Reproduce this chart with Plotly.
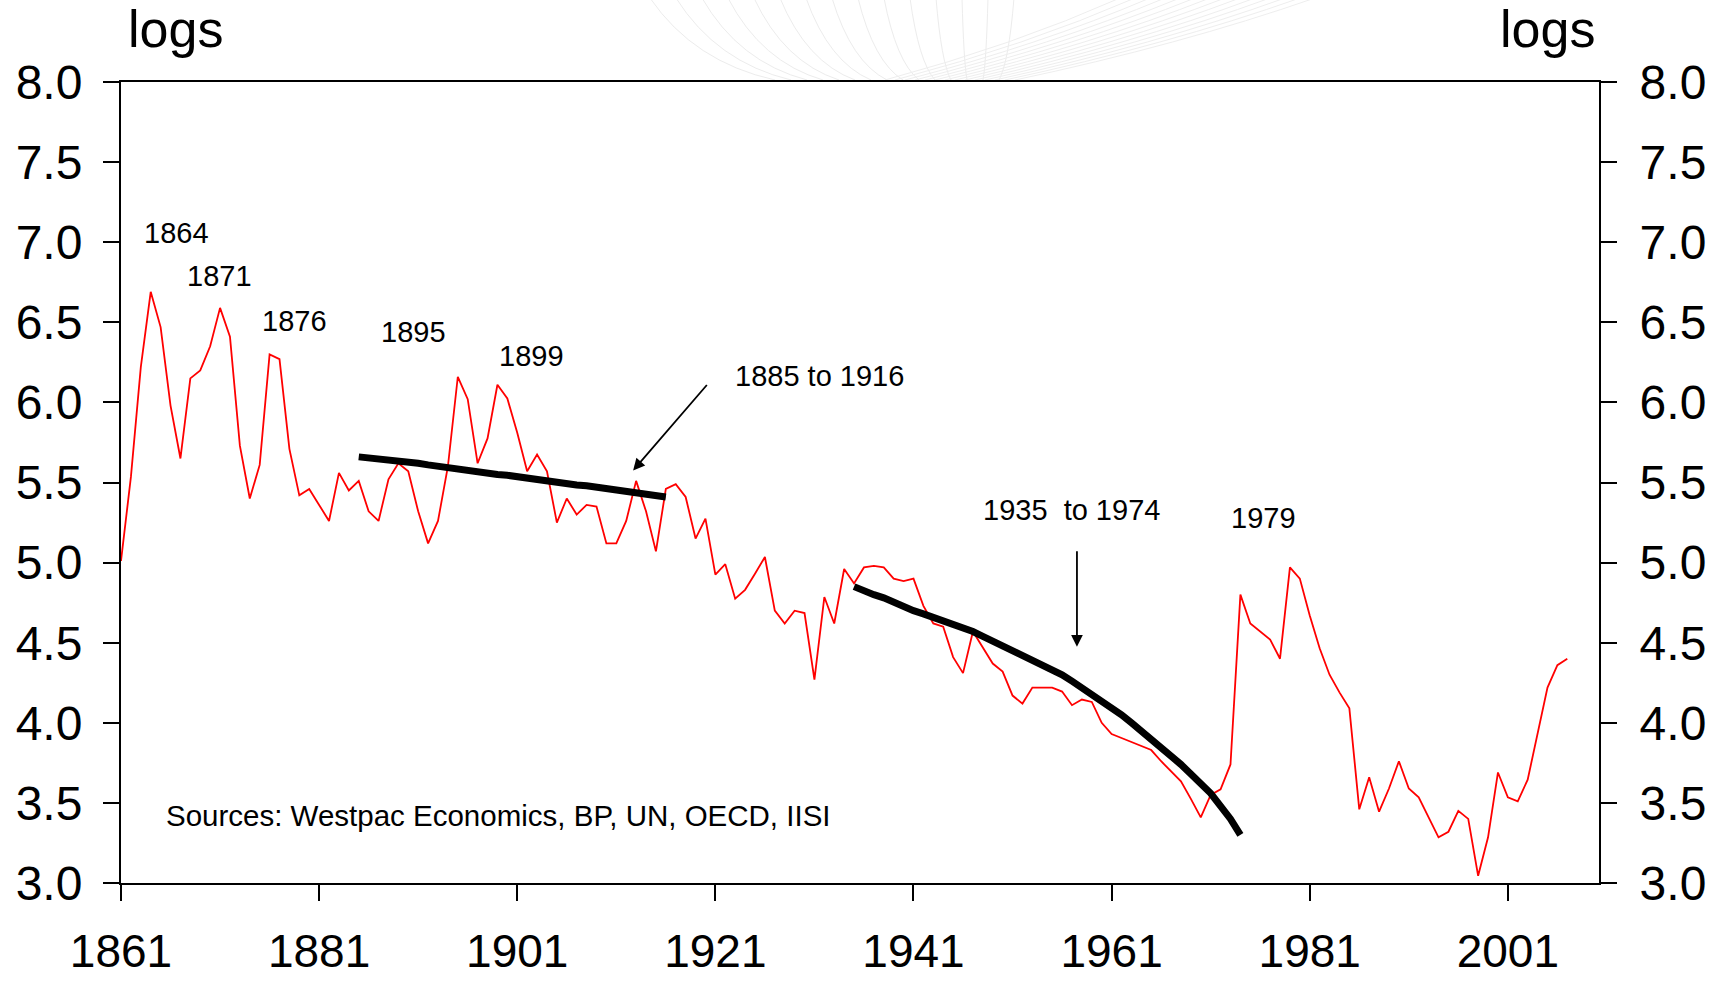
import plotly.graph_objects as go

# ---------------- data ----------------
years = list(range(1861, 2008))
log_intensity = [
    # 1861-1870
    5.01, 5.535, 6.22, 6.69, 6.47, 5.98, 5.65, 6.15, 6.20, 6.35,
    # 1871-1880
    6.59, 6.41, 5.73, 5.40, 5.61, 6.30, 6.27, 5.71, 5.42, 5.46,
    # 1881-1890
    5.36, 5.26, 5.56, 5.45, 5.51, 5.32, 5.26, 5.52, 5.62, 5.57,
    # 1891-1900
    5.32, 5.12, 5.26, 5.60, 6.16, 6.02, 5.62, 5.775, 6.11, 6.025,
    # 1901-1910
    5.81, 5.57, 5.675, 5.57, 5.25, 5.40, 5.30, 5.36, 5.35, 5.12,
    # 1911-1920
    5.12, 5.26, 5.51, 5.32, 5.07, 5.46, 5.49, 5.41, 5.15, 5.275,
    # 1921-1930
    4.925, 4.99, 4.775, 4.83, 4.93, 5.035, 4.70, 4.62, 4.70, 4.685,
    # 1931-1940
    4.27, 4.785, 4.62, 4.96, 4.87, 4.97, 4.98, 4.97, 4.90, 4.885,
    # 1941-1950
    4.90, 4.73, 4.62, 4.60, 4.41, 4.31, 4.57, 4.47, 4.37, 4.32,
    # 1951-1960
    4.17, 4.12, 4.22, 4.22, 4.22, 4.195, 4.11, 4.145, 4.13, 4.00,
    # 1961-1970
    3.93, 3.905, 3.88, 3.855, 3.83, 3.76, 3.70, 3.635, 3.525, 3.41,
    # 1971-1980
    3.55, 3.585, 3.74, 4.80, 4.62, 4.57, 4.52, 4.40, 4.97, 4.90,
    # 1981-1990
    4.67, 4.465, 4.30, 4.19, 4.09, 3.46, 3.66, 3.445, 3.59, 3.76,
    # 1991-2000
    3.59, 3.535, 3.41, 3.285, 3.32, 3.45, 3.40, 3.045, 3.285, 3.69,
    # 2001-2007
    3.535, 3.51, 3.645, 3.93, 4.22, 4.36, 4.40,
]
assert len(years) == len(log_intensity)

trend1_years = list(range(1885, 1917))
trend1_values = [
    5.66, 5.655, 5.65, 5.64, 5.635, 5.625, 5.62, 5.61, 5.60, 5.59,
    5.58, 5.575, 5.565, 5.56, 5.55, 5.545, 5.535, 5.53, 5.52, 5.51,
    5.50, 5.495, 5.485, 5.48, 5.47, 5.46, 5.45, 5.44, 5.435, 5.425,
    5.415, 5.41,
]
trend2_years = list(range(1935, 1975))
trend2_values = [
    4.85, 4.82, 4.80, 4.78, 4.75, 4.72, 4.70, 4.68, 4.66, 4.63,
    4.61, 4.59, 4.57, 4.54, 4.51, 4.49, 4.46, 4.43, 4.40, 4.36,
    4.33, 4.30, 4.26, 4.22, 4.18, 4.14, 4.10, 4.05, 4.00, 3.95,
    3.90, 3.85, 3.80, 3.74, 3.68, 3.62, 3.56, 3.48, 3.40, 3.30,
]
assert len(trend1_years) == len(trend1_values)
assert len(trend2_years) == len(trend2_values)

x_ticks = [1861, 1881, 1901, 1921, 1941, 1961, 1981, 2001]
y_ticks = [3.0, 3.5, 4.0, 4.5, 5.0, 5.5, 6.0, 6.5, 7.0, 7.5, 8.0]
y_tick_text = [f"{v:.1f}" for v in y_ticks]

peak_labels = ["1864", "1871", "1876", "1895", "1899", "1979"]
peak_label_x = [1866.6, 1870.9, 1878.5, 1890.5, 1902.4, 1976.3]
peak_label_y = [7.06, 6.79, 6.51, 6.44, 6.29, 5.28]

# ---------------- figure ----------------
FONT = "Arial, Liberation Sans, sans-serif"
W, H = 1726, 981
ML, MR, MT, MB = 121, 127, 82, 98
PW, PH = W - ML - MR, H - MT - MB


def px(x):
    return (x - ML) / PW


def py(y):
    return (H - MB - y) / PH


fig = go.Figure()
fig.add_trace(go.Scatter(x=years, y=log_intensity, mode="lines",
                         line=dict(color="#ff0000", width=1.8),
                         showlegend=False, hoverinfo="x+y"))
fig.add_trace(go.Scatter(x=trend1_years, y=trend1_values, mode="lines",
                         line=dict(color="#000000", width=7),
                         showlegend=False))
fig.add_trace(go.Scatter(x=trend2_years, y=trend2_values, mode="lines",
                         line=dict(color="#000000", width=7),
                         showlegend=False))
# invisible trace to carry the right-hand axis
fig.add_trace(go.Scatter(x=years, y=log_intensity, yaxis="y2", mode="lines",
                         line=dict(width=0), opacity=0, showlegend=False,
                         hoverinfo="skip"))

# decorative faint wave pattern in the top margin
shapes = []
for i in range(15):
    x0, x1 = 650 + 26 * i, 775 + 16 * i
    cx = x0 + (x1 - x0) * 0.35
    path = (f"M {px(x0)},{py(-2)} Q {px(cx)},{py(62)} {px(x1)},{py(80)}")
    shapes.append(dict(type="path", xref="paper", yref="paper", path=path,
                       line=dict(color="#ececec", width=1), layer="below"))
for j in range(14):
    x0, x1 = 885 + 10 * j, 1120 + 15 * j
    cx = x0 + (x1 - x0) * 0.55
    path = (f"M {px(x0)},{py(80)} Q {px(cx)},{py(45)} {px(x1)},{py(-2)}")
    shapes.append(dict(type="path", xref="paper", yref="paper", path=path,
                       line=dict(color="#eeeeee", width=1), layer="below"))

LABEL_FONT = dict(size=29, color="black", family=FONT)
annotations = []
for t, xv, yv in zip(peak_labels, peak_label_x, peak_label_y):
    annotations.append(dict(x=xv, y=yv, xref="x", yref="y", text=t,
                            showarrow=False, font=LABEL_FONT))
annotations += [
    dict(x=1931.5, y=6.165, xref="x", yref="y", text="1885 to 1916",
         showarrow=False, font=LABEL_FONT),
    dict(x=1956.9, y=5.33, xref="x", yref="y", text="1935&nbsp;&nbsp;to 1974",
         showarrow=False, font=LABEL_FONT),
    dict(x=1865.3, y=3.42, xref="x", yref="y", xanchor="left",
         text="Sources: Westpac Economics, BP, UN, OECD, IISI",
         showarrow=False, font=dict(size=29.5, color="black", family=FONT)),
    # arrows
    dict(x=1912.7, y=5.575, xref="x", yref="y", text="", showarrow=True,
         ax=75, ay=-87, arrowhead=2, arrowsize=1.3, arrowwidth=1.8,
         arrowcolor="black"),
    dict(x=1957.5, y=4.475, xref="x", yref="y", text="", showarrow=True,
         ax=0, ay=-97, arrowhead=2, arrowsize=1.3, arrowwidth=1.8,
         arrowcolor="black"),
    # unit labels
    dict(x=px(126), y=py(29), xref="paper", yref="paper", xanchor="left",
         yanchor="middle", text="logs", showarrow=False,
         font=dict(size=52, color="black", family=FONT)),
    dict(x=px(1597), y=py(29), xref="paper", yref="paper", xanchor="right",
         yanchor="middle", text="logs", showarrow=False,
         font=dict(size=52, color="black", family=FONT)),
]

axis_common = dict(showgrid=False, zeroline=False, linecolor="black",
                   linewidth=2, ticks="outside", tickcolor="black",
                   tickwidth=2, ticklen=16, automargin=False)

fig.update_layout(
    width=W, height=H, autosize=False,
    margin=dict(l=ML, r=MR, t=MT, b=MB, pad=0, autoexpand=False),
    paper_bgcolor="white", plot_bgcolor="white",
    font=dict(family=FONT, color="black"),
    showlegend=False,
    shapes=shapes,
    annotations=annotations,
    xaxis=dict(range=[1861, 2010.2], tickvals=x_ticks,
               ticktext=[str(v) for v in x_ticks],
               tickfont=dict(size=46, family=FONT, color="black"),
               ticklabelstandoff=11, showline=True, mirror=True,
               **axis_common),
    yaxis=dict(range=[3.0, 8.0], tickvals=y_ticks, ticktext=y_tick_text,
               tickfont=dict(size=48, family=FONT, color="black"),
               ticklabelstandoff=11, showline=True, side="left",
               **axis_common),
    yaxis2=dict(range=[3.0, 8.0], tickvals=y_ticks, ticktext=y_tick_text,
                tickfont=dict(size=48, family=FONT, color="black"),
                ticklabelstandoff=13, showline=True, side="right",
                overlaying="y", anchor="x",
                **axis_common),
)

fig.write_html("out.html",
               config={"displayModeBar": False},
               post_script="document.body.style.margin='0px';"
                           "document.body.style.overflow='hidden';")
